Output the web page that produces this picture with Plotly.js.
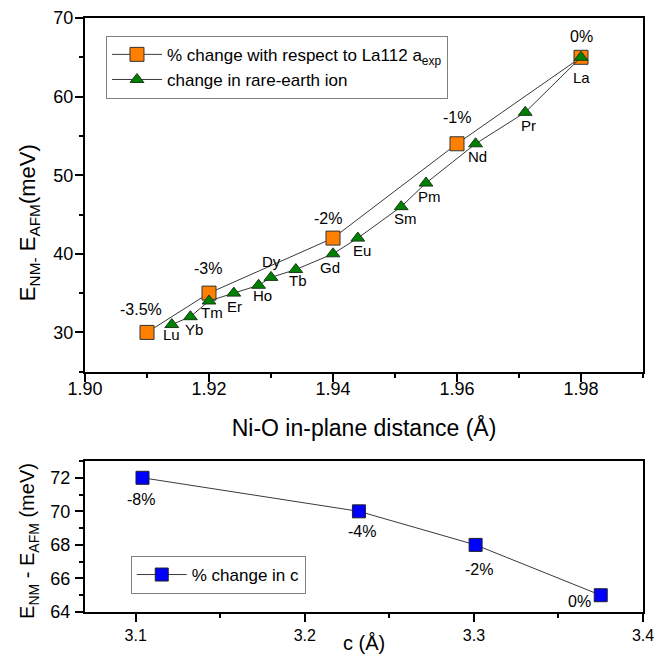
<!DOCTYPE html>
<html>
<head>
<meta charset="utf-8">
<script src="https://cdn.plot.ly/plotly-3.0.1.min.js"></script>
<style>
  html, body { margin: 0; padding: 0; background: #ffffff; }
  #chart { width: 667px; height: 654px; }
</style>
</head>
<body>
<div id="chart"></div>
<script>
// ---------------- DATA ----------------
const strainX = [1.91, 1.92, 1.94, 1.96, 1.98];
const strainY = [30, 35, 42, 54, 65];
const strainLabels = ['-3.5%', '-3%', '-2%', '-1%', '0%'];

const ionNames = ['Lu', 'Yb', 'Tm', 'Er', 'Ho', 'Dy', 'Tb', 'Gd', 'Eu', 'Sm', 'Pm', 'Nd', 'Pr', 'La'];
const ionX = [1.914, 1.917, 1.920, 1.924, 1.928, 1.930, 1.934, 1.940, 1.944, 1.951, 1.955, 1.963, 1.971, 1.980];
const ionY = [31, 32, 34, 35, 36, 37, 38, 40, 42, 46, 49, 54, 58, 65];

const cX = [3.104, 3.232, 3.301, 3.375];
const cY = [72, 70, 68, 65];
const cLabels = ['-8%', '-4%', '-2%', '0%'];

const legendNames = ['% change with respect to La112 a<sub>exp</sub>', 'change in rare-earth ion', '% change in c'];

// ---------------- STYLE / LABEL PLACEMENT (pixels) ----------------
const strainShift = [[-6, 23], [-1, 25], [-5, 20], [0, 26], [0, 21]];
const ionShift = [[0, -10], [4, -12.5], [3, -12], [1, -13], [4, -10], [0, 16], [2, -11],
                  [-3.5, -14], [4, -12], [4, -12], [3.5, -13], [2, -12.5], [3.5, -13], [0, -20]];
const cShift = [[-1, -22], [3.5, -20.5], [3, -25], [-21, -6]];

const FONT = 'Liberation Sans, Arial, sans-serif';

const traces = [
  {
    x: strainX, y: strainY, xaxis: 'x', yaxis: 'y', type: 'scatter', mode: 'lines+markers',
    name: legendNames[0], legend: 'legend',
    line: { color: '#3a3a3a', width: 1 },
    marker: { symbol: 'square', size: 14, color: '#ff8000', line: { color: '#333333', width: 1 } }
  },
  {
    x: ionX, y: ionY, xaxis: 'x', yaxis: 'y', type: 'scatter', mode: 'lines+markers',
    name: legendNames[1], legend: 'legend',
    line: { color: '#3a3a3a', width: 1 },
    marker: { symbol: 'triangle-up', size: 12, color: '#008000', line: { color: '#1a3a1a', width: 1 } }
  },
  {
    x: cX, y: cY, xaxis: 'x2', yaxis: 'y2', type: 'scatter', mode: 'lines+markers',
    name: legendNames[2], legend: 'legend2',
    line: { color: '#3a3a3a', width: 1 },
    marker: { symbol: 'square', size: 13, color: '#0000ff', line: { color: '#222222', width: 1 } }
  }
];

const annotations = [];
strainX.forEach((x, i) => annotations.push({
  x: x, y: strainY[i], xref: 'x', yref: 'y', text: strainLabels[i], showarrow: false,
  xshift: strainShift[i][0], yshift: strainShift[i][1], font: { family: FONT, size: 16, color: '#000' }
}));
ionX.forEach((x, i) => annotations.push({
  x: x, y: ionY[i], xref: 'x', yref: 'y', text: ionNames[i], showarrow: false,
  xshift: ionShift[i][0], yshift: ionShift[i][1], font: { family: FONT, size: 15, color: '#000' }
}));
cX.forEach((x, i) => annotations.push({
  x: x, y: cY[i], xref: 'x2', yref: 'y2', text: cLabels[i], showarrow: false,
  xshift: cShift[i][0], yshift: cShift[i][1], font: { family: FONT, size: 16, color: '#000' }
}));

// axis titles as annotations for exact placement
annotations.push({
  xref: 'paper', yref: 'paper', x: -0.1, y: 0.655, xanchor: 'center', yanchor: 'middle',
  text: 'E<sub>NM-</sub> E<sub>AFM</sub>(meV)', textangle: -90, showarrow: false,
  font: { family: FONT, size: 22, color: '#000' }
});
annotations.push({
  xref: 'paper', yref: 'paper', x: -0.1, y: 0.12, xanchor: 'center', yanchor: 'middle',
  text: 'E<sub>NM</sub> - E<sub>AFM</sub> (meV)', textangle: -90, showarrow: false,
  font: { family: FONT, size: 20, color: '#000' }
});
annotations.push({
  xref: 'paper', yref: 'paper', x: 0.5, y: -0.052, xanchor: 'center', yanchor: 'middle',
  text: 'c (Å)', showarrow: false,
  font: { family: FONT, size: 20, color: '#000' }
});

const axisCommon = {
  showline: true, linewidth: 2, linecolor: '#000', mirror: true,
  ticks: 'outside', ticklen: 8, tickwidth: 2, tickcolor: '#000',
  showgrid: false, zeroline: false, fixedrange: true
};

const layout = {
  width: 667, height: 654,
  margin: { l: 85, r: 24, t: 18, b: 42 },
  paper_bgcolor: '#ffffff', plot_bgcolor: '#ffffff',
  font: { family: FONT, color: '#000' },
  xaxis: Object.assign({}, axisCommon, {
    anchor: 'y', domain: [0, 1], range: [1.90, 1.99], tick0: 1.90, dtick: 0.02, tickformat: '.2f',
    minor: { ticks: 'outside', ticklen: 4, tickwidth: 2, tickcolor: '#000', dtick: 0.01, tick0: 1.90, showgrid: false },
    tickfont: { family: FONT, size: 18 }, ticklabelstandoff: -8,
    title: { text: 'Ni-O in-plane distance (Å)', font: { family: FONT, size: 23 }, standoff: 22 }
  }),
  yaxis: Object.assign({}, axisCommon, {
    anchor: 'x', domain: [0.4045, 1], range: [25, 70], tick0: 0, dtick: 10,
    minor: { ticks: 'outside', ticklen: 4, tickwidth: 2, tickcolor: '#000', dtick: 5, tick0: 0, showgrid: false },
    tickfont: { family: FONT, size: 18 }, ticklabelstandoff: -2
  }),
  xaxis2: Object.assign({}, axisCommon, {
    anchor: 'y2', domain: [0, 1], range: [3.07, 3.4], tick0: 3.0, dtick: 0.1, tickformat: '.1f',
    minor: { ticks: 'outside', ticklen: 4, tickwidth: 2, tickcolor: '#000', dtick: 0.05, tick0: 3.0, showgrid: false },
    tickfont: { family: FONT, size: 16 }, ticklabelstandoff: 0
  }),
  yaxis2: Object.assign({}, axisCommon, {
    anchor: 'x2', domain: [0, 0.2542], range: [64, 73], tick0: 64, dtick: 2,
    minor: { ticks: 'outside', ticklen: 4, tickwidth: 2, tickcolor: '#000', dtick: 1, tick0: 64, showgrid: false },
    tickfont: { family: FONT, size: 18 }, ticklabelstandoff: 1
  }),
  legend: {
    x: 0.0376, y: 0.97, xanchor: 'left', yanchor: 'top',
    bgcolor: '#ffffff', bordercolor: '#808080', borderwidth: 1, itemwidth: 50,
    font: { family: FONT, size: 17, color: '#000' }, tracegroupgap: 0
  },
  legend2: {
    x: 0.082, y: 0.0943, xanchor: 'left', yanchor: 'top',
    bgcolor: '#ffffff', bordercolor: '#808080', borderwidth: 1, itemwidth: 50,
    font: { family: FONT, size: 17, color: '#000' }
  },
  showlegend: true,
  annotations: annotations
};

Plotly.newPlot('chart', traces, layout, { displayModeBar: false, staticPlot: true });
</script>
</body>
</html>
